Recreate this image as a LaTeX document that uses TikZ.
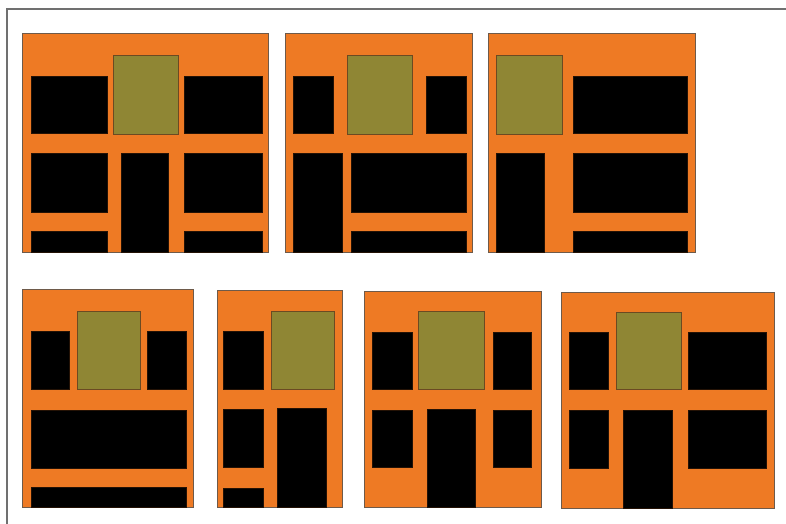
\documentclass[tikz,border=0pt]{standalone}
\usepackage{tikz}
\definecolor{facadeorange}{HTML}{EE7A24}
\definecolor{signolive}{HTML}{8F8634}
\definecolor{signedge}{HTML}{6B4A22}
\definecolor{facadeedge}{HTML}{6E5A4A}
\definecolor{framegrey}{HTML}{707070}

\begin{document}
\begin{tikzpicture}[
  x=1pt, y=-1pt,
  facade/.style={fill=facadeorange, draw=facadeedge, line width=1pt},
  sign/.style={fill=signolive, draw=signedge, line width=1pt},
  pane/.style={fill=black, draw=black!85!facadeorange, line width=0.6pt},
  frameline/.style={draw=framegrey, line width=1.2pt}
]
\useasboundingbox (0,0) rectangle (786,524);

% outer frame, left and top only
\draw[frameline] (7,524) -- (7,9) -- (786,9);

% top row
\draw[facade] (22,34) rectangle (268,252);
\draw[sign] (113,56) rectangle (178,134);
\foreach \xa/\ya/\xb/\yb in {31/76/107/133, 184/76/262/133, 31/153/107/212, 121/153/168/252,
  184/153/262/212, 31/231/107/252, 184/231/262/252}
  \draw[pane] (\xa,\ya) rectangle (\xb,\yb);

\draw[facade] (285,34) rectangle (472,252);
\draw[sign] (347,56) rectangle (412,134);
\foreach \xa/\ya/\xb/\yb in {293/76/333/133, 426/76/466/133, 293/153/342/252,
  351/153/466/212, 351/231/466/252}
  \draw[pane] (\xa,\ya) rectangle (\xb,\yb);

\draw[facade] (488,34) rectangle (695,252);
\draw[sign] (496,56) rectangle (562,134);
\foreach \xa/\ya/\xb/\yb in {573/76/687/133, 496/153/544/252, 573/153/687/212, 573/231/687/252}
  \draw[pane] (\xa,\ya) rectangle (\xb,\yb);

% bottom row
\draw[facade] (22,289) rectangle (193,507);
\draw[sign] (77,311) rectangle (140,389);
\foreach \xa/\ya/\xb/\yb in {31/331/69/389, 147/331/186/389, 31/410/186/468, 31/487/186/507}
  \draw[pane] (\xa,\ya) rectangle (\xb,\yb);

\draw[facade] (217,290) rectangle (342,507);
\draw[sign] (271,311) rectangle (334,389);
\foreach \xa/\ya/\xb/\yb in {223/331/263/389, 223/409/263/467, 223/488/263/507, 277/408/326/507}
  \draw[pane] (\xa,\ya) rectangle (\xb,\yb);

\draw[facade] (364,291) rectangle (541,507);
\draw[sign] (418,311) rectangle (484,389);
\foreach \xa/\ya/\xb/\yb in {372/332/412/389, 493/332/531/389, 372/410/412/467,
  493/410/531/467, 427/409/475/507}
  \draw[pane] (\xa,\ya) rectangle (\xb,\yb);

\draw[facade] (561,292) rectangle (774,508);
\draw[sign] (616,312) rectangle (681,389);
\foreach \xa/\ya/\xb/\yb in {569/332/608/389, 688/332/766/389, 569/410/608/468,
  688/410/766/468, 623/410/672/508}
  \draw[pane] (\xa,\ya) rectangle (\xb,\yb);
\end{tikzpicture}
\end{document}
